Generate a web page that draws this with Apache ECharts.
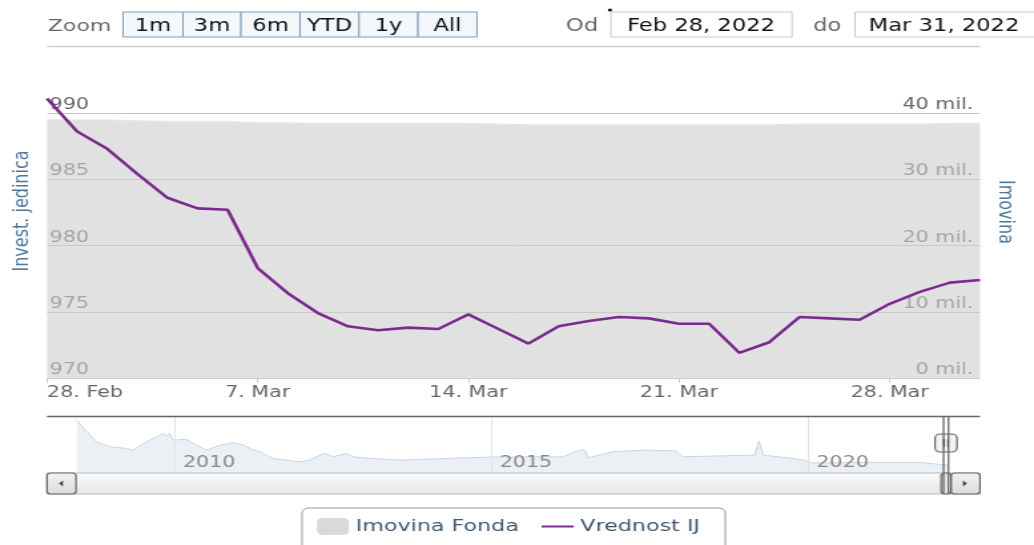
<!DOCTYPE html>
<html>
<head>
<meta charset="utf-8">
<script src="https://cdn.jsdelivr.net/npm/echarts@6/dist/echarts.min.js"></script>
<style>
  html, body { margin: 0; padding: 0; background: #fff; overflow: hidden; }
  /* the reference is a horizontally stretched screenshot, so draw narrow and stretch */
  #main { width: 777px; height: 545px; transform: scaleX(1.330759); transform-origin: 0 0; }
</style>
</head>
<body>
<div id="main"></div>
<script>
// dnevni podaci, 28. feb - 31. mar 2022
var dates = ['2022-02-28', '2022-03-01', '2022-03-02', '2022-03-03', '2022-03-04', '2022-03-05', '2022-03-06',
  '2022-03-07', '2022-03-08', '2022-03-09', '2022-03-10', '2022-03-11', '2022-03-12', '2022-03-13',
  '2022-03-14', '2022-03-15', '2022-03-16', '2022-03-17', '2022-03-18', '2022-03-19', '2022-03-20',
  '2022-03-21', '2022-03-22', '2022-03-23', '2022-03-24', '2022-03-25', '2022-03-26', '2022-03-27',
  '2022-03-28', '2022-03-29', '2022-03-30', '2022-03-31'];
// Imovina Fonda, mil.
var imovinaFonda = [39.0, 38.9, 38.9, 38.8, 38.7, 38.7, 38.7, 38.5, 38.5, 38.4, 38.4, 38.4, 38.4, 38.4,
  38.4, 38.3, 38.2, 38.2, 38.2, 38.2, 38.2, 38.2, 38.2, 38.2, 38.2, 38.3, 38.3, 38.3, 38.3, 38.3, 38.4, 38.4];
// Vrednost investicione jedinice
var vrednostIJ = [991.1, 988.6, 987.3, 985.4, 983.6, 982.8, 982.7, 978.3, 976.4, 974.9, 973.9, 973.6, 973.8, 973.7,
  974.8, 973.7, 972.6, 973.9, 974.3, 974.6, 974.5, 974.1, 974.1, 971.9, 972.7, 974.6, 974.5, 974.4,
  975.6, 976.5, 977.2, 977.4];
// navigator (cela istorija imovine)
var navYears = [2008.45, 2008.61, 2008.76, 2008.97, 2009.24, 2009.34, 2009.55, 2009.71, 2009.82, 2009.87, 2009.92,
  2009.97, 2010.18, 2010.34, 2010.50, 2010.71, 2010.92, 2011.08, 2011.24, 2011.34, 2011.55, 2011.76, 2011.97,
  2012.13, 2012.29, 2012.37, 2012.50, 2012.71, 2012.81, 2013.02, 2013.55, 2014.30, 2015.02, 2016.13, 2016.39,
  2016.47, 2016.52, 2016.91, 2017.44, 2017.91, 2018.02, 2019.15, 2019.22, 2019.29, 2019.86, 2020.07, 2020.70,
  2021.75, 2022.12, 2022.20];
var navImovina = [254, 198, 150, 126, 118, 110, 150, 174, 190, 178, 190,
  158, 162, 134, 110, 134, 146, 134, 110, 102, 70, 62, 54,
  62, 86, 94, 78, 94, 78, 72, 62, 70, 77, 78, 110,
  110, 73, 102, 110, 106, 78, 86, 154, 86, 66, 48, 51,
  51, 40, 38.5];
var zoomButtons = ['1m', '3m', '6m', 'YTD', '1y', 'All'];
var dateFrom = 'Feb 28, 2022';
var dateTo = 'Mar 31, 2022';

var S = 1034 / 777;
function px(x) { return x / S; }
var FONT = 'DejaVu Sans';
var MONTHS = { '02': 'Feb', '03': 'Mar' };

var navData = navYears.map(function (y, i) { return [y, navImovina[i]]; });

var gfx = [];
function text(x, y, s, color, size, align, rot) {
  gfx.push({
    type: 'text', x: x, y: y, rotation: rot || 0, silent: true, z: 20,
    style: { text: s, fill: color, font: size + 'px ' + FONT, textAlign: align || 'left', textVerticalAlign: 'middle' }
  });
}
function rect(x0, x1, y0, y1, fill, stroke, r, lw) {
  gfx.push({
    type: 'rect', silent: true, z: 20,
    shape: { x: px(x0), y: y0, width: px(x1) - px(x0), height: y1 - y0, r: r || 0 },
    style: { fill: fill, stroke: stroke, lineWidth: lw || 1 }
  });
}
function line(x0, y0, x1, y1, color, lw) {
  gfx.push({
    type: 'line', silent: true, z: 21,
    shape: { x1: px(x0), y1: y0, x2: px(x1), y2: y1 },
    style: { stroke: color, lineWidth: lw || 1 }
  });
}

// range selector
text(px(48), 27, 'Zoom', '#666', 16.5);
var btnEdges = [123, 183, 241, 300, 359, 418, 477];
zoomButtons.forEach(function (b, i) {
  rect(btnEdges[i], btnEdges[i + 1], 12, 37, '#f5f8fb', '#7f9cb9');
  text(px((btnEdges[i] + btnEdges[i + 1]) / 2), 26.5, b, '#111', 17, 'center');
});
text(px(566), 26.5, 'Od', '#666', 17);
rect(611, 792, 12, 37, '#fff', '#c8c8c8');
text(px(701), 26.5, dateFrom, '#111', 17, 'center');
text(px(813), 26.5, 'do', '#666', 17);
rect(855, 1040, 12, 37, '#fff', '#c8c8c8');
text(px(944), 26.5, dateTo, '#111', 17, 'center');
gfx.push({ type: 'circle', silent: true, z: 20, shape: { cx: px(610), cy: 10, r: 1.6 }, style: { fill: '#111' } });
line(47, 46.5, 980, 46.5, '#cfcfcf', 1.5);

// axis titles
text(px(22), 211, 'Invest. jedinica', '#4d759e', 16, 'center', Math.PI / 2);
text(px(1005), 212, 'Imovina', '#4d759e', 16, 'center', -Math.PI / 2);

// navigator outline + scrollbar
line(47, 416.5, 980, 416.5, '#666', 1.5);
rect(47, 980, 473, 494, { type: 'linear', x: 0, y: 0, x2: 0, y2: 1, colorStops: [{ offset: 0, color: '#fcfcfc' }, { offset: 1, color: '#e6e6e6' }] }, '#b8b8b8');
rect(47, 76, 473, 494, { type: 'linear', x: 0, y: 0, x2: 0, y2: 1, colorStops: [{ offset: 0, color: '#f2f2f2' }, { offset: 1, color: '#dcdcdc' }] }, '#666', 3, 1.2);
rect(951, 980, 473, 494, { type: 'linear', x: 0, y: 0, x2: 0, y2: 1, colorStops: [{ offset: 0, color: '#f2f2f2' }, { offset: 1, color: '#dcdcdc' }] }, '#666', 3, 1.2);
rect(941, 951, 473, 494, '#e4e4e4', '#666', 3, 1.2);
gfx.push({ type: 'polygon', silent: true, z: 22, shape: { points: [[px(59), 483.5], [px(63), 480.5], [px(63), 486.5]] }, style: { fill: '#444' } });
gfx.push({ type: 'polygon', silent: true, z: 22, shape: { points: [[px(967), 483.5], [px(963), 480.5], [px(963), 486.5]] }, style: { fill: '#444' } });
line(943.5, 416, 943.5, 494, '#666', 1.3);
line(948.5, 416, 948.5, 494, '#666', 1.3);
rect(935, 957, 434, 452, '#f2f2f2', '#666', 4, 1.2);
line(944, 439, 944, 447, '#555', 1.2);
line(948, 439, 948, 447, '#555', 1.2);

var chartDom = document.getElementById('main');
var myChart = echarts.init(chartDom);
var option = {
  animation: false,
  textStyle: { fontFamily: FONT },
  grid: [
    { left: px(47), right: 777 - px(980), top: 113, height: 265 },
    { left: px(47), right: 777 - px(980), top: 416, height: 57 }
  ],
  legend: {
    left: px(302), top: 508,
    data: [
      { name: 'Imovina Fonda', icon: 'roundRect', itemStyle: { color: '#d9d9d9' } },
      { name: 'Vrednost IJ', itemStyle: { opacity: 0 } }
    ],
    itemWidth: px(32), itemHeight: 17, itemGap: px(21.5),
    padding: [10, 19, 25, px(15)],
    borderColor: '#999', borderWidth: 1, borderRadius: 5,
    textStyle: { color: '#3e576f', fontSize: 16.7, fontFamily: FONT }
  },
  xAxis: [
    {
      type: 'category', gridIndex: 0, data: dates, boundaryGap: false,
      axisLine: { lineStyle: { color: '#c0d0e0' } },
      axisTick: { interval: 6, length: 5, lineStyle: { color: '#c0d0e0' } },
      axisLabel: {
        interval: 6, color: '#666', fontSize: 15.5, margin: 7, alignMinLabel: 'left',
        formatter: function (v) { var p = v.split('-'); return parseInt(p[2], 10) + '. ' + MONTHS[p[1]]; }
      },
      splitLine: { show: false }
    },
    {
      type: 'value', gridIndex: 1, min: 2007.98, max: 2022.71, splitNumber: 3, z: 5,
      axisLine: { show: false }, axisTick: { show: false },
      axisLabel: {
        inside: true, color: '#888', fontSize: 15.5, align: 'left', verticalAlign: 'bottom',
        margin: 2, padding: [0, 0, 0, 6], showMinLabel: false, showMaxLabel: false,
        formatter: function (v) { return String(v); }
      },
      splitLine: { show: true, showMinLine: false, showMaxLine: false, lineStyle: { color: '#e2e2e2' } }
    }
  ],
  yAxis: [
    {
      type: 'value', gridIndex: 0, position: 'left', min: 970, max: 990, interval: 5,
      axisLine: { show: false }, axisTick: { show: false },
      axisLabel: { inside: true, align: 'left', verticalAlign: 'bottom', margin: 2, color: '#666', fontSize: 15.5 },
      splitLine: { lineStyle: { color: '#c6c6c6' } }
    },
    {
      type: 'value', gridIndex: 0, position: 'right', min: 0, max: 40, interval: 10,
      axisLine: { show: false }, axisTick: { show: false },
      axisLabel: {
        inside: true, align: 'right', verticalAlign: 'bottom', margin: 5, color: '#666', fontSize: 15.5,
        formatter: function (v) { return v + ' mil.'; }
      },
      splitLine: { show: false }
    },
    { type: 'value', gridIndex: 1, min: 0, max: 274, show: false }
  ],
  series: [
    {
      name: 'Imovina Fonda', type: 'line', xAxisIndex: 0, yAxisIndex: 1, data: imovinaFonda,
      symbol: 'none', z: 1,
      lineStyle: { color: '#e6e6e6', width: 1.5 },
      areaStyle: { color: 'rgba(205,205,205,0.6)', opacity: 1 }
    },
    {
      name: 'Vrednost IJ', type: 'line', xAxisIndex: 0, yAxisIndex: 0, data: vrednostIJ,
      symbol: 'none', showSymbol: false, clip: false, z: 3,
      itemStyle: { color: '#7b2b8d' },
      lineStyle: { color: '#7b2b8d', width: 2.6 }
    },
    {
      name: 'navigator', type: 'line', xAxisIndex: 1, yAxisIndex: 2, data: navData,
      symbol: 'none', silent: true, z: 1,
      lineStyle: { color: '#c6d5e4', width: 1 },
      areaStyle: { color: '#ebf0f5', opacity: 1 }
    }
  ],
  graphic: gfx
};
myChart.setOption(option);
</script>
</body>
</html>
